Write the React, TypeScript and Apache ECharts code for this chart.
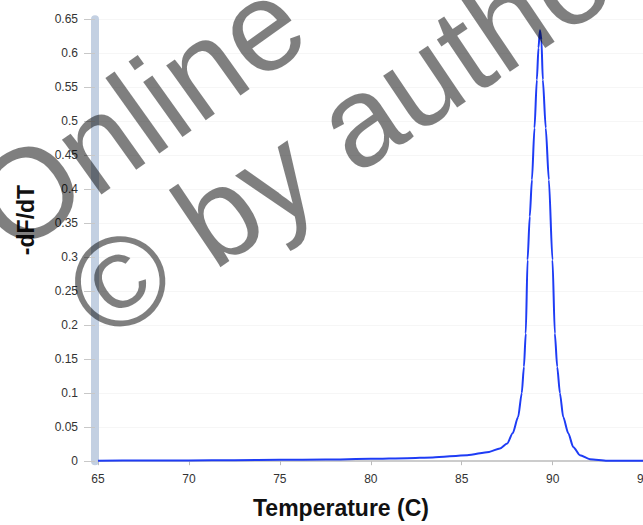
import React, { useEffect, useRef } from "react";
import * as echarts from "echarts";

const temperatures = [
  65, 67.5, 70, 72.5, 75, 77.5, 80, 82, 83.4, 85.3, 86.5, 87.1, 87.5, 87.8, 88.1, 88.3,
  88.42, 88.52, 88.62, 88.74, 88.86, 89.0, 89.13, 89.22, 89.3, 89.38, 89.46, 89.62,
  89.79, 89.99, 90.12, 90.25, 90.4, 90.58, 90.86, 91.13, 91.5, 92.05, 93.0, 94.0, 95.0,
];
const dfdtValues = [
  0.0008, 0.001, 0.0012, 0.0015, 0.002, 0.0026, 0.0035, 0.0045, 0.0055, 0.0088, 0.0137,
  0.0187, 0.026, 0.041, 0.065, 0.1, 0.139, 0.188, 0.296, 0.36, 0.414, 0.49, 0.561, 0.608,
  0.634, 0.62, 0.561, 0.49, 0.414, 0.296, 0.188, 0.139, 0.1, 0.065, 0.041, 0.021, 0.0088,
  0.003, 0.0008, 0.0005, 0.0005,
];
const xTitle = "Temperature (C)";
const yTitle = "-dF/dT";
const watermarkLine1 = "Online";
const watermarkLine2 = "© by author";

export default function App() {
  const ref = useRef<HTMLDivElement>(null);
  useEffect(() => {
    if (!ref.current) return;
    const chart = echarts.init(ref.current, null, { renderer: "svg" });
    const data = temperatures.map((t, i) => [t, dfdtValues[i]]);
    const rot1 = (35.5 * Math.PI) / 180;
    const rot2 = (34 * Math.PI) / 180;
    chart.setOption({
      animation: false,
      backgroundColor: "#ffffff",
      grid: { left: 98, right: 16.4, top: 19.3, bottom: 63.8 },
      xAxis: {
        type: "value",
        min: 65,
        max: 95,
        interval: 5,
        axisLine: { show: true, lineStyle: { color: "#cccccc", width: 2 } },
        axisTick: { show: true, length: 4, lineStyle: { color: "#bbbbbb" } },
        axisLabel: { color: "#333333", fontSize: 12, margin: 12, fontFamily: "Liberation Sans, Arial, sans-serif" },
        splitLine: { show: false },
      },
      yAxis: {
        type: "value",
        min: 0,
        max: 0.65,
        interval: 0.05,
        offset: 3,
        axisLine: { show: true, lineStyle: { color: "#c3d0e2", width: 8 } },
        axisTick: { show: true, length: 11, lineStyle: { color: "#c8c8c8" } },
        axisLabel: {
          color: "#333333",
          fontSize: 12,
          margin: 17,
          fontFamily: "Liberation Sans, Arial, sans-serif",
          formatter: (v: number) => String(+v.toFixed(2)),
        },
        splitLine: { show: true, lineStyle: { color: "#f6f6f6", width: 1 } },
      },
      series: [
        {
          type: "line",
          data,
          showSymbol: false,
          symbol: "none",
          lineStyle: { color: "#1e3cf5", width: 2 },
          smooth: 0.25,
          smoothMonotone: "x",
          z: 3,
        },
      ],
      graphic: [
        {
          type: "text",
          x: 341,
          y: 508,
          z: 50,
          style: {
            text: xTitle,
            font: "bold 23px Liberation Sans, Arial, sans-serif",
            fill: "#111111",
            textAlign: "center",
            textVerticalAlign: "middle",
          },
        },
        {
          type: "text",
          x: 26,
          y: 220,
          rotation: Math.PI / 2,
          z: 50,
          style: {
            text: yTitle,
            font: "bold 23px Liberation Sans, Arial, sans-serif",
            fill: "#111111",
            textAlign: "center",
            textVerticalAlign: "middle",
          },
        },
        {
          type: "text",
          x: 138,
          y: 114,
          rotation: rot1,
          z: 100,
          style: {
            text: watermarkLine1,
            font: "128px Liberation Sans, Arial, sans-serif",
            fill: "rgba(0,0,0,0.5)",
            textAlign: "center",
            textVerticalAlign: "middle",
          },
        },
        {
          type: "text",
          x: 356,
          y: 122,
          rotation: rot2,
          z: 100,
          style: {
            text: watermarkLine2,
            font: "128px Liberation Sans, Arial, sans-serif",
            fill: "rgba(0,0,0,0.5)",
            textAlign: "center",
            textVerticalAlign: "middle",
          },
        },
      ],
    });
    return () => chart.dispose();
  }, []);
  return (
    <div style={{ position: "fixed", left: 0, top: 0, width: 643, height: 525, overflow: "hidden", background: "#fff" }}>
      <div ref={ref} style={{ width: 660, height: 525 }} />
    </div>
  );
}
